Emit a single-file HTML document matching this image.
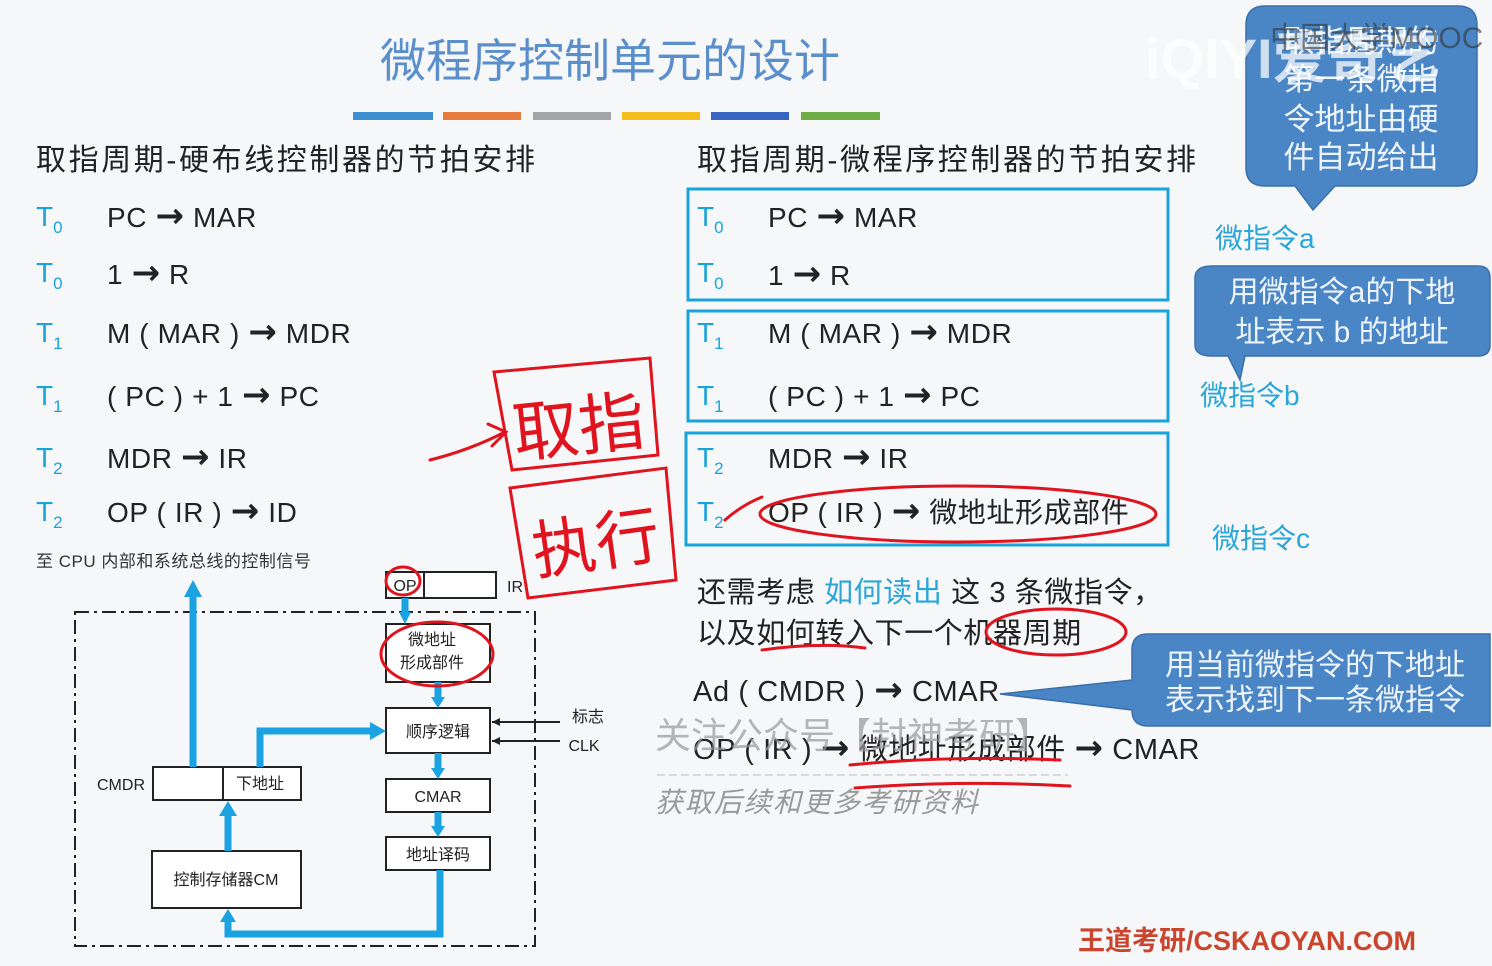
<!DOCTYPE html>
<html><head><meta charset="utf-8"><style>
html,body{margin:0;padding:0;background:#f6f7f9;}
svg{display:block}
text{font-family:"Liberation Sans","Noto Sans CJK SC",sans-serif;}
.ar{font-family:"DejaVu Sans",sans-serif;font-weight:bold;font-size:34px;}
</style></head><body>
<svg width="1492" height="966" viewBox="0 0 1492 966" xmlns="http://www.w3.org/2000/svg">
<rect width="1492" height="966" fill="#f6f7f9"/>
<text x="610" y="77" font-size="46" fill="#5a8fcb" text-anchor="middle">微程序控制单元的设计</text>
<rect x="353" y="112" width="80" height="8" fill="#3d8fd2"/>
<rect x="443" y="112" width="78" height="8" fill="#e87c3e"/>
<rect x="533" y="112" width="78" height="8" fill="#a5a5a5"/>
<rect x="622" y="112" width="78" height="8" fill="#f5be1c"/>
<rect x="711" y="112" width="78" height="8" fill="#3964c2"/>
<rect x="801" y="112" width="79" height="8" fill="#6fae44"/>

<g font-size="30" fill="#222" letter-spacing="2.6">
<text x="36" y="170">取指周期-硬布线控制器的节拍安排</text>
<text x="697" y="170">取指周期-微程序控制器的节拍安排</text>
</g>
<g font-size="28" fill="#1aa3d9">
<text x="36" y="226">T<tspan font-size="17" dy="7">0</tspan></text>
<text x="36" y="282">T<tspan font-size="17" dy="7">0</tspan></text>
<text x="36" y="342">T<tspan font-size="17" dy="7">1</tspan></text>
<text x="36" y="405">T<tspan font-size="17" dy="7">1</tspan></text>
<text x="36" y="467">T<tspan font-size="17" dy="7">2</tspan></text>
<text x="36" y="521">T<tspan font-size="17" dy="7">2</tspan></text>
<text x="697" y="226">T<tspan font-size="17" dy="7">0</tspan></text>
<text x="697" y="282">T<tspan font-size="17" dy="7">0</tspan></text>
<text x="697" y="342">T<tspan font-size="17" dy="7">1</tspan></text>
<text x="697" y="405">T<tspan font-size="17" dy="7">1</tspan></text>
<text x="697" y="467">T<tspan font-size="17" dy="7">2</tspan></text>
<text x="697" y="521">T<tspan font-size="17" dy="7">2</tspan></text>
</g>
<g font-size="28" fill="#222" letter-spacing="0.6">
<text x="107" y="227">PC <tspan class="ar">→</tspan> MAR</text>
<text x="107" y="284">1 <tspan class="ar">→</tspan> R</text>
<text x="107" y="343">M ( MAR ) <tspan class="ar">→</tspan> MDR</text>
<text x="107" y="406">( PC ) + 1 <tspan class="ar">→</tspan> PC</text>
<text x="107" y="468">MDR <tspan class="ar">→</tspan> IR</text>
<text x="107" y="522">OP ( IR ) <tspan class="ar">→</tspan> ID</text>
<text x="768" y="227">PC <tspan class="ar">→</tspan> MAR</text>
<text x="768" y="285">1 <tspan class="ar">→</tspan> R</text>
<text x="768" y="343">M ( MAR ) <tspan class="ar">→</tspan> MDR</text>
<text x="768" y="406">( PC ) + 1 <tspan class="ar">→</tspan> PC</text>
<text x="768" y="468">MDR <tspan class="ar">→</tspan> IR</text>
<text x="768" y="522">OP ( IR ) <tspan class="ar">→</tspan> 微地址形成部件</text>
</g>
<g fill="none" stroke="#1aa3d9" stroke-width="3">
<rect x="688" y="189" width="480" height="111"/>
<rect x="688" y="311" width="480" height="110"/>
<rect x="686" y="433" width="482" height="112"/>
</g>
<g font-size="28" fill="#2aa6d8">
<text x="1215" y="248">微指令a</text>
<text x="1200" y="405">微指令b</text>
<text x="1212" y="548">微指令c</text>
</g>
<path d="M1265 6 H1458 Q1477 6 1477 25 V168 Q1477 186 1458 186 H1335 L1313 210 L1295 186 H1265 Q1246 186 1246 168 V25 Q1246 6 1265 6Z" fill="#4a86c6" stroke="#3b6fa8" stroke-width="1.5"/>
<g font-size="31" fill="#eef4fb" text-anchor="middle">
<text x="1361" y="52">取指周期的</text>
<text x="1361" y="90">第一条微指</text>
<text x="1361" y="130">令地址由硬</text>
<text x="1361" y="168">件自动给出</text>
</g>
<text x="1145" y="78" font-size="56" fill="#ffffff" opacity="0.75" font-weight="bold">iQIYI爱奇艺</text>
<text x="1270" y="48" font-size="30" fill="#333" opacity="0.6">中国大学MOOC</text>
<path d="M1212 266 H1478 Q1490 266 1490 278 V345 Q1490 356 1478 356 H1245 L1240 380 L1228 356 H1212 Q1195 356 1195 345 V278 Q1195 266 1212 266Z" fill="#4a86c6" stroke="#3b6fa8" stroke-width="1.5"/>
<g font-size="30" fill="#eef4fb" text-anchor="middle">
<text x="1342" y="302">用微指令a的下地</text>
<text x="1342" y="342">址表示 b 的地址</text>
</g>
<path d="M1148 634 H1490 V726 H1148 Q1132 726 1132 710 L1000 694 L1132 680 V650 Q1132 634 1148 634Z" fill="#4a86c6" stroke="#3b6fa8" stroke-width="1.5"/>
<g font-size="30" fill="#eef4fb" text-anchor="middle">
<text x="1315" y="675">用当前微指令的下地址</text>
<text x="1315" y="710">表示找到下一条微指令</text>
</g>
<g font-size="29" fill="#222" letter-spacing="0.6">
<text x="697" y="602">还需考虑 <tspan fill="#2aa6d8">如何读出</tspan> 这 3 条微指令，</text>
<text x="697" y="643">以及如何转入下一个机器周期</text>
<text x="693" y="701">Ad ( CMDR ) <tspan class="ar">→</tspan> CMAR</text>
<text x="693" y="759">OP ( IR ) <tspan class="ar">→</tspan> 微地址形成部件 <tspan class="ar">→</tspan> CMAR</text>
</g>
<text x="655" y="748" font-size="36" fill="#999" opacity="0.7">关注公众号【封神考研】</text>
<line x1="657" y1="775" x2="1068" y2="775" stroke="#bbb" stroke-dasharray="8 4"/>
<text x="655" y="812" font-size="28" fill="#999" font-style="italic" letter-spacing="1.5">获取后续和更多考研资料</text>
<text x="1078" y="950" font-size="27" fill="#c9452d" font-weight="bold">王道考研/CSKAOYAN.COM</text>

<text x="36" y="567" font-size="17" fill="#333" letter-spacing="0.5">至 CPU 内部和系统总线的控制信号</text>
<rect x="75" y="612" width="460" height="334" fill="none" stroke="#222" stroke-width="2" stroke-dasharray="14 5 3 5"/>
<g fill="#fff" stroke="#222" stroke-width="2">
<rect x="386" y="572" width="110" height="26"/>
<rect x="386" y="624" width="104" height="58"/>
<rect x="386" y="708" width="104" height="45"/>
<rect x="386" y="779" width="104" height="33"/>
<rect x="386" y="837" width="104" height="33"/>
<rect x="153" y="767" width="148" height="33"/>
<rect x="152" y="851" width="149" height="57"/>
</g>
<line x1="424" y1="572" x2="424" y2="598" stroke="#222" stroke-width="2"/>
<line x1="223" y1="767" x2="223" y2="800" stroke="#222" stroke-width="2"/>
<g font-size="16" fill="#222" text-anchor="middle">
<text x="405" y="591">OP</text>
<text x="515" y="592">IR</text>
<text x="432" y="645">微地址</text>
<text x="432" y="668">形成部件</text>
<text x="438" y="737">顺序逻辑</text>
<text x="438" y="802">CMAR</text>
<text x="438" y="860">地址译码</text>
<text x="121" y="790">CMDR</text>
<text x="260" y="789">下地址</text>
<text x="226" y="885">控制存储器CM</text>
<text x="588" y="722">标志</text>
<text x="584" y="751">CLK</text>
</g>
<g stroke="#222" stroke-width="2">
<line x1="492" y1="722" x2="560" y2="722"/><line x1="492" y1="741" x2="560" y2="741"/>
</g>
<path d="M492 722 l8 -4 v8z M492 741 l8 -4 v8z" fill="#222"/>
<g stroke="#1aa3e0" stroke-width="7" fill="none">
<line x1="193" y1="597" x2="193" y2="767"/>
<polyline points="260,767 260,731 372,731"/>
<line x1="228" y1="815" x2="228" y2="851"/>
<line x1="405" y1="598" x2="405" y2="614"/>
<line x1="438" y1="682" x2="438" y2="698"/>
<line x1="438" y1="753" x2="438" y2="769"/>
<line x1="438" y1="812" x2="438" y2="827"/>
<polyline points="440,870 440,934 228,934 228,920"/>
</g>
<g fill="#1aa3e0">
<path d="M184 597 L193 580 L202 597Z"/>
<path d="M370 722 L386 731 L370 740Z"/>
<path d="M219 816 L228 801 L237 816Z"/>
<path d="M399 612 L405 624 L411 612Z"/>
<path d="M431 697 L438 708 L445 697Z"/>
<path d="M431 768 L438 779 L445 768Z"/>
<path d="M431 826 L438 837 L445 826Z"/>
<path d="M220 922 L228 909 L236 922Z"/>
</g>

<g fill="none" stroke="#e0141e" stroke-width="3" stroke-linecap="round">
<path d="M494 372 L650 358 L658 455 L512 470 Z"/>
<path d="M510 488 L666 468 L676 580 L528 598 Z"/>
<path d="M430 460 Q470 450 505 432 M488 424 L506 432 L492 446"/>
<ellipse cx="403" cy="581" rx="17" ry="14"/>
<ellipse cx="437" cy="654" rx="56" ry="32"/>
<ellipse cx="958" cy="514" rx="198" ry="28"/>
<path d="M725 520 Q742 505 762 497"/>
<ellipse cx="1056" cy="632" rx="70" ry="23"/>
<path d="M762 650 Q820 642 865 648"/>
<path d="M850 765 Q950 755 1060 760"/>
<path d="M855 788 Q960 780 1070 786"/>
</g>
<g fill="#e0141e" font-family="'Noto Serif CJK SC',serif">
<text x="512" y="450" font-size="66" transform="rotate(-6 580 420)">取指</text>
<text x="530" y="565" font-size="64" transform="rotate(-8 600 530)">执行</text>
</g>
</svg>
</body></html>
